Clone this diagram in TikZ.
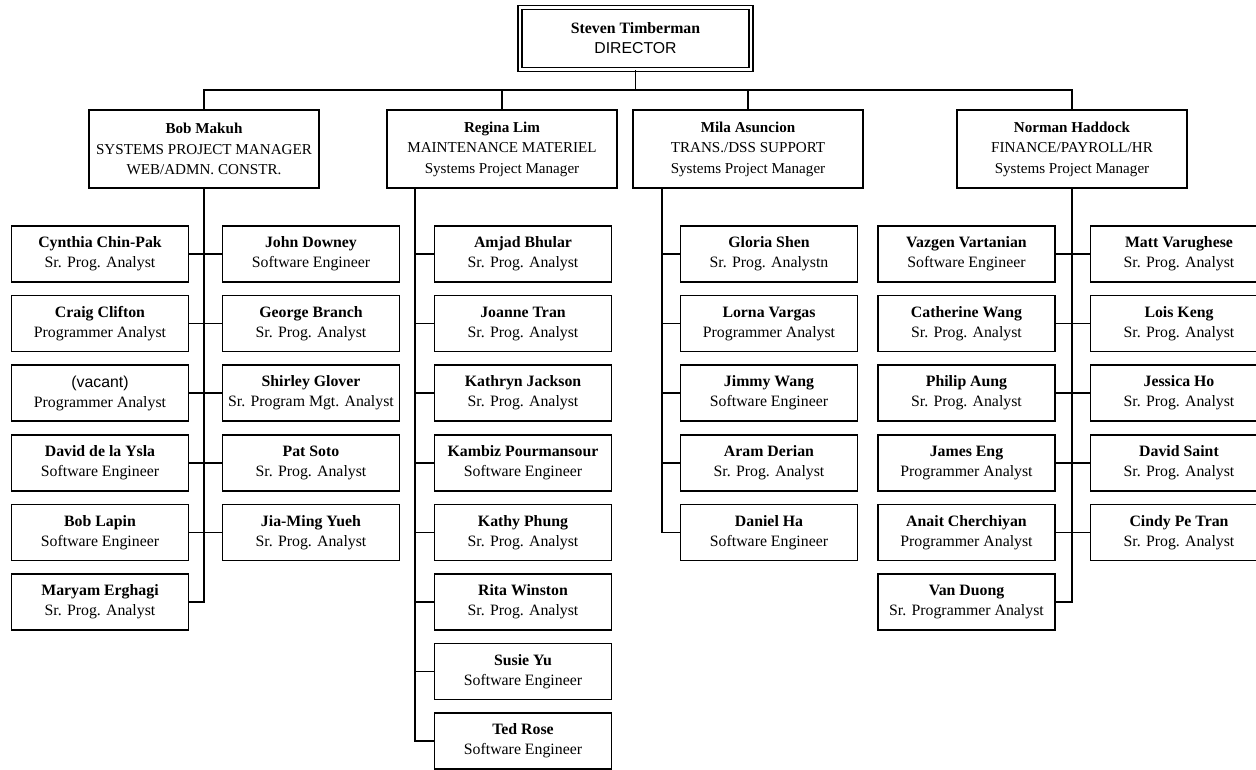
\documentclass[tikz,border=0pt]{standalone}
\usepackage{fontspec}
\setmainfont{Liberation Serif}
\newfontfamily\arialfont{Liberation Sans}
\usepackage{tikz}
\usetikzlibrary{positioning}

\begin{document}
\begin{tikzpicture}[
    node distance=0.24cm,
    staff/.style={
        rectangle, draw=black, line width=0.9pt,
        minimum width=3.54cm, minimum height=1.12cm, inner sep=1pt,
        align=center, font=\fontsize{9}{11.4}\selectfont
    },
    lead/.style={staff, minimum width=4.6cm, minimum height=1.56cm,
        font=\fontsize{8.6}{11.6}\selectfont},
    head/.style={staff, minimum width=4.62cm, minimum height=1.24cm,
        line width=0.8pt, double, double distance=1.3pt},
    link/.style={line width=0.9pt}
]
    \clip (0,0) rectangle (25.12,-15.38);

    % director and managers
    \node[head] (timberman) at (12.71,-0.77) {\textbf{Steven Timberman}\\{\arialfont DIRECTOR}};
    \coordinate (bus) at (12.71,-1.80);

    \node[lead] (makuh) at (4.08,-2.98) {\textbf{Bob Makuh}\\SYSTEMS PROJECT MANAGER\\WEB/ADMN. CONSTR.};
    \node[lead] (lim) at (10.04,-2.98) {\textbf{Regina Lim}\\MAINTENANCE MATERIEL\\Systems Project Manager};
    \node[lead] (asuncion) at (14.96,-2.98) {\textbf{Mila Asuncion}\\TRANS./DSS SUPPORT\\Systems Project Manager};
    \node[lead] (haddock) at (21.44,-2.98) {\textbf{Norman Haddock}\\FINANCE/PAYROLL/HR\\Systems Project Manager};

    \draw[link] (timberman.south) -- (bus);
    \draw[link] (makuh.north) |- (bus) -| (haddock.north);
    \draw[link] (lim.north) -- (lim.north |- bus);
    \draw[link] (asuncion.north) -- (asuncion.north |- bus);

    % Bob Makuh's group
    \node[staff] (chinpak) at (2.00,-5.08) {\textbf{Cynthia Chin-Pak}\\Sr. Prog. Analyst};
    \node[staff, below=of chinpak] (clifton) {\textbf{Craig Clifton}\\Programmer Analyst};
    \node[staff, below=of clifton] (vacant) {\arialfont (vacant)\\Programmer Analyst};
    \node[staff, below=of vacant] (delaysla) {\textbf{David de la Ysla}\\Software Engineer};
    \node[staff, below=of delaysla] (lapin) {\textbf{Bob Lapin}\\Software Engineer};
    \node[staff, below=of lapin] (erghagi) {\textbf{Maryam Erghagi}\\Sr. Prog. Analyst};

    \node[staff] (downey) at (6.22,-5.08) {\textbf{John Downey}\\Software Engineer};
    \node[staff, below=of downey] (branch) {\textbf{George Branch}\\Sr. Prog. Analyst};
    \node[staff, below=of branch] (glover) {\textbf{Shirley Glover}\\Sr. Program Mgt. Analyst};
    \node[staff, below=of glover] (soto) {\textbf{Pat Soto}\\Sr. Prog. Analyst};
    \node[staff, below=of soto] (yueh) {\textbf{Jia-Ming Yueh}\\Sr. Prog. Analyst};

    \draw[link] (makuh.south) |- (erghagi.east);
    \draw[link] (chinpak.east) -- (downey.west);
    \draw[link] (clifton.east) -- (branch.west);
    \draw[link] (vacant.east) -- (glover.west);
    \draw[link] (delaysla.east) -- (soto.west);
    \draw[link] (lapin.east) -- (yueh.west);

    % Regina Lim's group
    \node[staff] (bhular) at (10.46,-5.08) {\textbf{Amjad Bhular}\\Sr. Prog. Analyst};
    \node[staff, below=of bhular] (tran) {\textbf{Joanne Tran}\\Sr. Prog. Analyst};
    \node[staff, below=of tran] (jackson) {\textbf{Kathryn Jackson}\\Sr. Prog. Analyst};
    \node[staff, below=of jackson] (pourmansour) {\textbf{Kambiz Pourmansour}\\Software Engineer};
    \node[staff, below=of pourmansour] (phung) {\textbf{Kathy Phung}\\Sr. Prog. Analyst};
    \node[staff, below=of phung] (winston) {\textbf{Rita Winston}\\Sr. Prog. Analyst};
    \node[staff, below=of winston] (yu) {\textbf{Susie Yu}\\Software Engineer};
    \node[staff, below=of yu] (rose) {\textbf{Ted Rose}\\Software Engineer};

    \coordinate (limtrunk) at ([xshift=0.58cm]lim.south west);
    \draw[link] (limtrunk) |- (rose.west);
    \draw[link] (bhular.west) -- (bhular.west -| limtrunk);
    \draw[link] (tran.west) -- (tran.west -| limtrunk);
    \draw[link] (jackson.west) -- (jackson.west -| limtrunk);
    \draw[link] (pourmansour.west) -- (pourmansour.west -| limtrunk);
    \draw[link] (phung.west) -- (phung.west -| limtrunk);
    \draw[link] (winston.west) -- (winston.west -| limtrunk);
    \draw[link] (yu.west) -- (yu.west -| limtrunk);

    % Mila Asuncion's group
    \node[staff] (shen) at (15.38,-5.08) {\textbf{Gloria Shen}\\Sr. Prog. Analystn};
    \node[staff, below=of shen] (vargas) {\textbf{Lorna Vargas}\\Programmer Analyst};
    \node[staff, below=of vargas] (jwang) {\textbf{Jimmy Wang}\\Software Engineer};
    \node[staff, below=of jwang] (derian) {\textbf{Aram Derian}\\Sr. Prog. Analyst};
    \node[staff, below=of derian] (ha) {\textbf{Daniel Ha}\\Software Engineer};

    \coordinate (asuntrunk) at ([xshift=0.6cm]asuncion.south west);
    \draw[link] (asuntrunk) |- (ha.west);
    \draw[link] (shen.west) -- (shen.west -| asuntrunk);
    \draw[link] (vargas.west) -- (vargas.west -| asuntrunk);
    \draw[link] (jwang.west) -- (jwang.west -| asuntrunk);
    \draw[link] (derian.west) -- (derian.west -| asuntrunk);

    % Norman Haddock's group
    \node[staff] (vartanian) at (19.33,-5.08) {\textbf{Vazgen Vartanian}\\Software Engineer};
    \node[staff, below=of vartanian] (cwang) {\textbf{Catherine Wang}\\Sr. Prog. Analyst};
    \node[staff, below=of cwang] (aung) {\textbf{Philip Aung}\\Sr. Prog. Analyst};
    \node[staff, below=of aung] (eng) {\textbf{James Eng}\\Programmer Analyst};
    \node[staff, below=of eng] (cherchiyan) {\textbf{Anait Cherchiyan}\\Programmer Analyst};
    \node[staff, below=of cherchiyan] (duong) {\textbf{Van Duong}\\Sr. Programmer Analyst};

    \node[staff] (varughese) at (23.58,-5.08) {\textbf{Matt Varughese}\\Sr. Prog. Analyst};
    \node[staff, below=of varughese] (keng) {\textbf{Lois Keng}\\Sr. Prog. Analyst};
    \node[staff, below=of keng] (ho) {\textbf{Jessica Ho}\\Sr. Prog. Analyst};
    \node[staff, below=of ho] (saint) {\textbf{David Saint}\\Sr. Prog. Analyst};
    \node[staff, below=of saint] (petran) {\textbf{Cindy Pe Tran}\\Sr. Prog. Analyst};

    \draw[link] (haddock.south) |- (duong.east);
    \draw[link] (vartanian.east) -- (varughese.west);
    \draw[link] (cwang.east) -- (keng.west);
    \draw[link] (aung.east) -- (ho.west);
    \draw[link] (eng.east) -- (saint.west);
    \draw[link] (cherchiyan.east) -- (petran.west);
\end{tikzpicture}
\end{document}
